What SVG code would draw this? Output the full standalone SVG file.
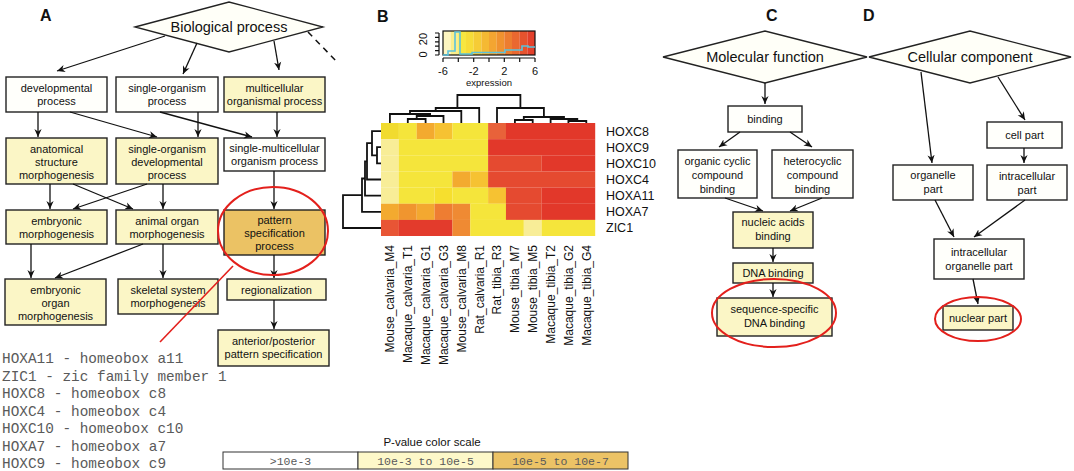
<svg xmlns="http://www.w3.org/2000/svg" width="1074" height="471" viewBox="0 0 1074 471">
<defs>
<marker id="ah" viewBox="0 0 10 10" refX="10" refY="5" markerWidth="8" markerHeight="8" markerUnits="userSpaceOnUse" orient="auto"><path d="M0,0.5 L10,5 L0,9.5 L3,5 z" fill="#111"/></marker>
</defs>
<style>
.box{stroke:#222;stroke-width:1.4}
.w{fill:#fffffb}.y{fill:#fbf6c6}.o{fill:#ebc264}
.t{font-family:"Liberation Sans",Arial,sans-serif;font-size:11px;fill:#111;text-anchor:middle}
.dia{fill:#fffff8;stroke:#222;stroke-width:1.3}
.dt{font-family:"Liberation Sans",Arial,sans-serif;font-size:14.5px;fill:#111;text-anchor:middle}
.pl{font-family:"Liberation Sans",Arial,sans-serif;font-size:16px;font-weight:bold;fill:#111}
.ar{stroke:#111;stroke-width:1.3;fill:none;marker-end:url(#ah)}
.red{fill:none;stroke:#e3201c;stroke-width:2}
.mono{font-family:"Liberation Mono","Courier New",monospace;fill:#5a5a5a}
.hl{font-family:"Liberation Sans",Arial,sans-serif;font-size:12.5px;fill:#111}
.cl{font-family:"Liberation Sans",Arial,sans-serif;font-size:12px;fill:#111}
.den{fill:none;stroke:#111;stroke-width:1.8}
</style>

<text class="pl" x="40" y="21">A</text>
<text class="pl" x="377" y="22">B</text>
<text class="pl" x="766" y="21">C</text>
<text class="pl" x="863" y="21">D</text>

<!-- Panel A nodes -->
<g id="bio"><polygon class="dia" points="135,27 229,2 323,27 229,52"/><text class="dt" x="229" y="32">Biological process</text></g>
<g id="devproc"><rect class="box w" x="6" y="77" width="101" height="35"/><text class="t" x="56.5" y="92">developmental</text><text class="t" x="56.5" y="105">process</text></g>
<g id="sop"><rect class="box w" x="116" y="77" width="102" height="35"/><text class="t" x="167" y="92">single-organism</text><text class="t" x="167" y="105">process</text></g>
<g id="mop"><rect class="box y" x="224" y="77" width="101" height="35"/><text class="t" x="274.5" y="92">multicellular</text><text class="t" x="274.5" y="105">organismal process</text></g>
<g id="asm"><rect class="box y" x="6" y="138" width="101" height="46"/><text class="t" x="56.5" y="153">anatomical</text><text class="t" x="56.5" y="166">structure</text><text class="t" x="56.5" y="179">morphogenesis</text></g>
<g id="sodp"><rect class="box y" x="116" y="138" width="102" height="46"/><text class="t" x="167" y="153">single-organism</text><text class="t" x="167" y="166">developmental</text><text class="t" x="167" y="179">process</text></g>
<g id="smop"><rect class="box w" x="224" y="138" width="101" height="33"/><text class="t" x="274.5" y="152">single-multicellular</text><text class="t" x="274.5" y="165">organism process</text></g>
<g id="em"><rect class="box y" x="6" y="210" width="101" height="34"/><text class="t" x="56.5" y="225">embryonic</text><text class="t" x="56.5" y="238">morphogenesis</text></g>
<g id="aom"><rect class="box y" x="116" y="210" width="102" height="34"/><text class="t" x="167" y="225">animal organ</text><text class="t" x="167" y="238">morphogenesis</text></g>
<g id="psp"><rect class="box o" x="224" y="210" width="101" height="45"/><text class="t" x="274.5" y="224">pattern</text><text class="t" x="274.5" y="237">specification</text><text class="t" x="274.5" y="250">process</text></g>
<g id="eom"><rect class="box y" x="5" y="279" width="101" height="46"/><text class="t" x="55.5" y="294">embryonic</text><text class="t" x="55.5" y="307">organ</text><text class="t" x="55.5" y="320">morphogenesis</text></g>
<g id="ssm"><rect class="box y" x="118" y="279" width="100" height="35"/><text class="t" x="168" y="294">skeletal system</text><text class="t" x="168" y="307">morphogenesis</text></g>
<g id="reg"><rect class="box y" x="227" y="279" width="99" height="21"/><text class="t" x="276.5" y="293.5">regionalization</text></g>
<g id="aps"><rect class="box y" x="218" y="330" width="111" height="36"/><text class="t" x="273.5" y="345">anterior/posterior</text><text class="t" x="273.5" y="358">pattern specification</text></g>

<!-- Panel C nodes -->
<g id="mf"><polygon class="dia" points="663,57 765,31 867,57 765,83"/><text class="dt" x="765" y="62">Molecular function</text></g>
<g id="bind"><rect class="box w" x="728" y="106" width="74" height="26"/><text class="t" x="765" y="123">binding</text></g>
<g id="occb"><rect class="box w" x="678" y="150" width="79" height="48"/><text class="t" x="717.5" y="165">organic cyclic</text><text class="t" x="717.5" y="179">compound</text><text class="t" x="717.5" y="193">binding</text></g>
<g id="hccb"><rect class="box w" x="772" y="150" width="81" height="48"/><text class="t" x="812.5" y="165">heterocyclic</text><text class="t" x="812.5" y="179">compound</text><text class="t" x="812.5" y="193">binding</text></g>
<g id="nab"><rect class="box y" x="733" y="212" width="80" height="36"/><text class="t" x="773" y="226">nucleic acids</text><text class="t" x="773" y="240">binding</text></g>
<g id="dnab"><rect class="box y" x="733" y="263" width="80" height="20"/><text class="t" x="773" y="277">DNA binding</text></g>
<g id="ssdb"><rect class="box y" x="717" y="298" width="115" height="38"/><text class="t" x="774.5" y="313">sequence-specific</text><text class="t" x="774.5" y="327">DNA binding</text></g>

<!-- Panel D nodes -->
<g id="cc"><polygon class="dia" points="869,57 970,31 1071,57 970,83"/><text class="dt" x="970" y="62">Cellular component</text></g>
<g id="cellpart"><rect class="box w" x="987" y="122" width="75" height="26"/><text class="t" x="1024.5" y="139">cell part</text></g>
<g id="orgpart"><rect class="box w" x="893" y="165" width="80" height="35"/><text class="t" x="933" y="179">organelle</text><text class="t" x="933" y="193">part</text></g>
<g id="icpart"><rect class="box w" x="987" y="165" width="80" height="35"/><text class="t" x="1027" y="180">intracellular</text><text class="t" x="1027" y="194">part</text></g>
<g id="icop"><rect class="box w" x="934" y="239" width="90" height="40"/><text class="t" x="979" y="256">intracellular</text><text class="t" x="979" y="270">organelle part</text></g>
<g id="nucpart"><rect class="box y" x="943" y="306" width="70" height="24"/><text class="t" x="978" y="322">nuclear part</text></g>

<!-- Connectors -->
<g id="connectors">
<line class="ar" x1="165" y1="36" x2="57" y2="71"/>
<line class="ar" x1="197" y1="43" x2="183" y2="74"/>
<line class="ar" x1="274" y1="41" x2="279" y2="70"/>
<line x1="308" y1="32" x2="338" y2="63" stroke="#111" stroke-width="1.5" stroke-dasharray="6,5"/>
<line class="ar" x1="38" y1="112" x2="38" y2="137"/>
<line class="ar" x1="70" y1="112" x2="157" y2="137"/>
<line class="ar" x1="198" y1="112" x2="198" y2="137"/>
<line class="ar" x1="160" y1="112" x2="252" y2="137"/>
<line class="ar" x1="277" y1="112" x2="277" y2="137"/>
<line class="ar" x1="50" y1="184" x2="50" y2="209"/>
<line class="ar" x1="73" y1="184" x2="133" y2="209"/>
<line class="ar" x1="147" y1="184" x2="73" y2="209"/>
<line class="ar" x1="163" y1="184" x2="163" y2="209"/>
<line class="ar" x1="274" y1="171" x2="274" y2="209"/>
<line class="ar" x1="31" y1="244" x2="31" y2="278"/>
<line class="ar" x1="143" y1="244" x2="55" y2="278"/>
<line class="ar" x1="163" y1="244" x2="163" y2="278"/>
<line class="ar" x1="274" y1="255" x2="274" y2="278"/>
<line class="ar" x1="274" y1="300" x2="274" y2="329"/>
<line class="ar" x1="765" y1="83" x2="765" y2="104"/>
<line class="ar" x1="740" y1="132" x2="719" y2="147"/>
<line class="ar" x1="790" y1="132" x2="812" y2="147"/>
<line class="ar" x1="725" y1="198" x2="763" y2="211"/>
<line class="ar" x1="822" y1="198" x2="790" y2="211"/>
<line class="ar" x1="773" y1="248" x2="773" y2="262"/>
<line class="ar" x1="773" y1="283" x2="773" y2="297"/>
<line class="ar" x1="921" y1="72" x2="932" y2="163"/>
<line class="ar" x1="998" y1="77" x2="1025" y2="120"/>
<line class="ar" x1="1024" y1="148" x2="1024" y2="163"/>
<line class="ar" x1="935" y1="200" x2="954" y2="237"/>
<line class="ar" x1="1025" y1="200" x2="974" y2="237"/>
<line class="ar" x1="973" y1="279" x2="978" y2="304"/>
</g>

<!-- highlights -->
<ellipse class="red" cx="273" cy="231" rx="55" ry="44"/>
<line x1="233" y1="266" x2="160" y2="342" stroke="#e3201c" stroke-width="1.6"/>
<ellipse class="red" cx="774" cy="313" rx="62" ry="34"/>
<ellipse class="red" cx="978" cy="319" rx="43" ry="22"/>

<!-- gene list -->
<g class="mono" font-size="14.4">
<text x="2" y="363">HOXA11 - homeobox a11</text>
<text x="2" y="381">ZIC1 - zic family member 1</text>
<text x="2" y="398">HOXC8 - homeobox c8</text>
<text x="2" y="416">HOXC4 - homeobox c4</text>
<text x="2" y="433">HOXC10 - homeobox c10</text>
<text x="2" y="451">HOXA7 - homeobox a7</text>
<text x="2" y="468">HOXC9 - homeobox c9</text>
</g>

<!-- P-value scale -->
<text x="432" y="446" font-family="Liberation Sans,Arial,sans-serif" font-size="11.5" fill="#111" text-anchor="middle">P-value color scale</text>
<rect x="223" y="452" width="135" height="17" fill="#ffffff" stroke="#333" stroke-width="1"/>
<rect x="358" y="452" width="135" height="17" fill="#fdf8c9" stroke="#333" stroke-width="1"/>
<rect x="493" y="452" width="135" height="17" fill="#ecc366" stroke="#333" stroke-width="1"/>
<g class="mono" font-size="11.5" text-anchor="middle">
<text x="290.5" y="465">&gt;10e-3</text>
<text x="425.5" y="465">10e-3 to 10e-5</text>
<text x="560.5" y="465">10e-5 to 10e-7</text>
</g>

<!-- Color key -->
<g id="colorkey">
<rect x="443" y="31" width="7.7" height="24" fill="#fdf5c0"/>
<rect x="450.6" y="31" width="7.7" height="24" fill="#faee8c"/>
<rect x="458.3" y="31" width="7.7" height="24" fill="#f7e640"/>
<rect x="466" y="31" width="7.7" height="24" fill="#f7dc38"/>
<rect x="473.6" y="31" width="7.7" height="24" fill="#f6cc36"/>
<rect x="481.3" y="31" width="7.7" height="24" fill="#f5b933"/>
<rect x="489" y="31" width="7.7" height="24" fill="#f3a531"/>
<rect x="496.6" y="31" width="7.7" height="24" fill="#f0922f"/>
<rect x="504.3" y="31" width="7.7" height="24" fill="#ed7d30"/>
<rect x="512" y="31" width="7.7" height="24" fill="#ea6830"/>
<rect x="519.6" y="31" width="7.7" height="24" fill="#e6532e"/>
<rect x="527.3" y="31" width="7.7" height="24" fill="#e3402b"/>
<rect x="443" y="31" width="92" height="24" fill="none" stroke="#111" stroke-width="1.2"/>
<path d="M443,55 H448 V51 H455 V32 H460 V54 H472 V52.5 H505 V50 H522 V46 H528 V47 H535" fill="none" stroke="#5bc2dc" stroke-width="1.6"/>
<path d="M439,33 V55 M435,55 H439 M435,50.6 H439 M435,46.2 H439 M435,41.8 H439 M435,37.4 H439 M435,33 H439" stroke="#111" stroke-width="1.2" fill="none"/>
<path d="M443,58 H535 M443,58 V62 M458.3,58 V62 M473.7,58 V62 M489,58 V62 M504.3,58 V62 M519.7,58 V62 M535,58 V62" stroke="#111" stroke-width="1.2" fill="none"/>
<g font-family="Liberation Sans,Arial,sans-serif" font-size="11" fill="#111" text-anchor="middle">
<text x="443" y="75">-6</text><text x="473.7" y="75">-2</text><text x="504.3" y="75">2</text><text x="535" y="75">6</text>
<text x="427" y="39" transform="rotate(-90 427 39)">20</text>
<text x="427" y="54.5" transform="rotate(-90 427 54.5)">0</text>
</g>
<text x="489" y="86" font-family="Liberation Sans,Arial,sans-serif" font-size="9.5" fill="#111" text-anchor="middle">expression</text>
</g>

<!-- Heatmap -->
<g id="heatmap">
<rect x="381" y="123" width="17.9" height="16.2" fill="#f1db2f"/><rect x="398.85" y="123" width="17.9" height="16.2" fill="#f5e53b"/><rect x="416.7" y="123" width="17.9" height="16.2" fill="#f3aa2f"/><rect x="434.55" y="123" width="17.9" height="16.2" fill="#f6c232"/><rect x="452.4" y="123" width="35.75" height="16.2" fill="#f5e53b"/><rect x="488.1" y="123" width="17.9" height="16.2" fill="#e8623a"/><rect x="505.95" y="123" width="89.25" height="16.2" fill="#e2382a"/>
<rect x="381" y="139.15" width="17.9" height="16.2" fill="#f8ed97"/><rect x="398.85" y="139.15" width="89.3" height="16.2" fill="#f5e53b"/><rect x="488.1" y="139.15" width="107.1" height="16.2" fill="#e2382a"/>
<rect x="381" y="155.3" width="17.9" height="16.2" fill="#f8ed97"/><rect x="398.85" y="155.3" width="89.3" height="16.2" fill="#f5e53b"/><rect x="488.1" y="155.3" width="53.6" height="16.2" fill="#e54a30"/><rect x="541.65" y="155.3" width="53.55" height="16.2" fill="#e2382a"/>
<rect x="381" y="171.45" width="17.9" height="16.2" fill="#f8ed97"/><rect x="398.85" y="171.45" width="53.6" height="16.2" fill="#f5e53b"/><rect x="452.4" y="171.45" width="17.9" height="16.2" fill="#f3aa2f"/><rect x="470.25" y="171.45" width="17.9" height="16.2" fill="#f6c232"/><rect x="488.1" y="171.45" width="107.1" height="16.2" fill="#e54a30"/>
<rect x="381" y="187.6" width="17.9" height="16.2" fill="#f8ed97"/><rect x="398.85" y="187.6" width="35.75" height="16.2" fill="#f5e53b"/><rect x="434.55" y="187.6" width="17.9" height="16.2" fill="#f6df2e"/><rect x="452.4" y="187.6" width="35.75" height="16.2" fill="#f5e53b"/><rect x="488.1" y="187.6" width="17.9" height="16.2" fill="#f6c232"/><rect x="505.95" y="187.6" width="35.75" height="16.2" fill="#e54a30"/><rect x="541.65" y="187.6" width="53.55" height="16.2" fill="#e2382a"/>
<rect x="381" y="203.75" width="17.9" height="16.2" fill="#f3aa2f"/><rect x="398.85" y="203.75" width="17.9" height="16.2" fill="#f0952f"/><rect x="416.7" y="203.75" width="17.9" height="16.2" fill="#f3a830"/><rect x="434.55" y="203.75" width="17.9" height="16.2" fill="#ee7d32"/><rect x="452.4" y="203.75" width="17.9" height="16.2" fill="#ef8a33"/><rect x="470.25" y="203.75" width="35.75" height="16.2" fill="#f5e53b"/><rect x="505.95" y="203.75" width="35.75" height="16.2" fill="#e54a30"/><rect x="541.65" y="203.75" width="53.55" height="16.2" fill="#e2382a"/>
<rect x="381" y="219.9" width="17.9" height="16.1" fill="#e85535"/><rect x="398.85" y="219.9" width="53.6" height="16.1" fill="#e33b2c"/><rect x="452.4" y="219.9" width="17.9" height="16.1" fill="#ef8a33"/><rect x="470.25" y="219.9" width="53.6" height="16.1" fill="#f5e53b"/><rect x="523.8" y="219.9" width="17.9" height="16.1" fill="#f8ed97"/><rect x="541.65" y="219.9" width="53.55" height="16.1" fill="#f5e53b"/>
</g>

<!-- dendrograms -->
<g id="dendro" class="den">
<path d="M407.8,123 V119 H425.6 V123"/>
<path d="M416.7,119 V116 H443.5 V123"/>
<path d="M389.9,123 V114 H430.1 V116"/>
<path d="M410,114 V111 H461.3 V123"/>
<path d="M435.7,111 V108 H479.2 V123"/>
<path d="M514.9,123 V120 H532.7 V123"/>
<path d="M568.4,123 V121 H586.3 V123"/>
<path d="M550.6,123 V119 H577.3 V121"/>
<path d="M523.8,120 V117 H564 V119"/>
<path d="M497,123 V108 H543.9 V117"/>
<path d="M457.4,108 V95 H520.4 V108"/>
<path d="M381,147.2 H377 V163.4 H381"/>
<path d="M381,131.1 H372 V155.3 H377"/>
<path d="M372,143.2 H367 V179.5 H381"/>
<path d="M367,161.4 H365 V195.7 H381"/>
<path d="M365,178.5 H362 V211.8 H381"/>
<path d="M362,195.2 H343 V228 H381"/>
</g>

<!-- row labels -->
<g class="hl">
<text x="606" y="136">HOXC8</text>
<text x="606" y="152">HOXC9</text>
<text x="606" y="168">HOXC10</text>
<text x="606" y="184">HOXC4</text>
<text x="606" y="200">HOXA11</text>
<text x="606" y="216">HOXA7</text>
<text x="606" y="232">ZIC1</text>
</g>
<!-- column labels -->
<g class="cl" text-anchor="end">
<text transform="translate(394.2,245) rotate(-90)">Mouse_calvaria_M4</text>
<text transform="translate(412.1,245) rotate(-90)">Macaque_calvaria_T1</text>
<text transform="translate(429.9,245) rotate(-90)">Macaque_calvaria_G1</text>
<text transform="translate(447.8,245) rotate(-90)">Macaque_calvaria_G3</text>
<text transform="translate(465.6,245) rotate(-90)">Mouse_calvaria_M8</text>
<text transform="translate(483.5,245) rotate(-90)">Rat_calvaria_R1</text>
<text transform="translate(501.3,245) rotate(-90)">Rat_tibia_R3</text>
<text transform="translate(519.2,245) rotate(-90)">Mouse_tibia_M7</text>
<text transform="translate(537,245) rotate(-90)">Mouse_tibia_M5</text>
<text transform="translate(554.9,245) rotate(-90)">Macaque_tibia_T2</text>
<text transform="translate(572.7,245) rotate(-90)">Macaque_tibia_G2</text>
<text transform="translate(590.6,245) rotate(-90)">Macaque_tibia_G4</text>
</g>
</svg>
